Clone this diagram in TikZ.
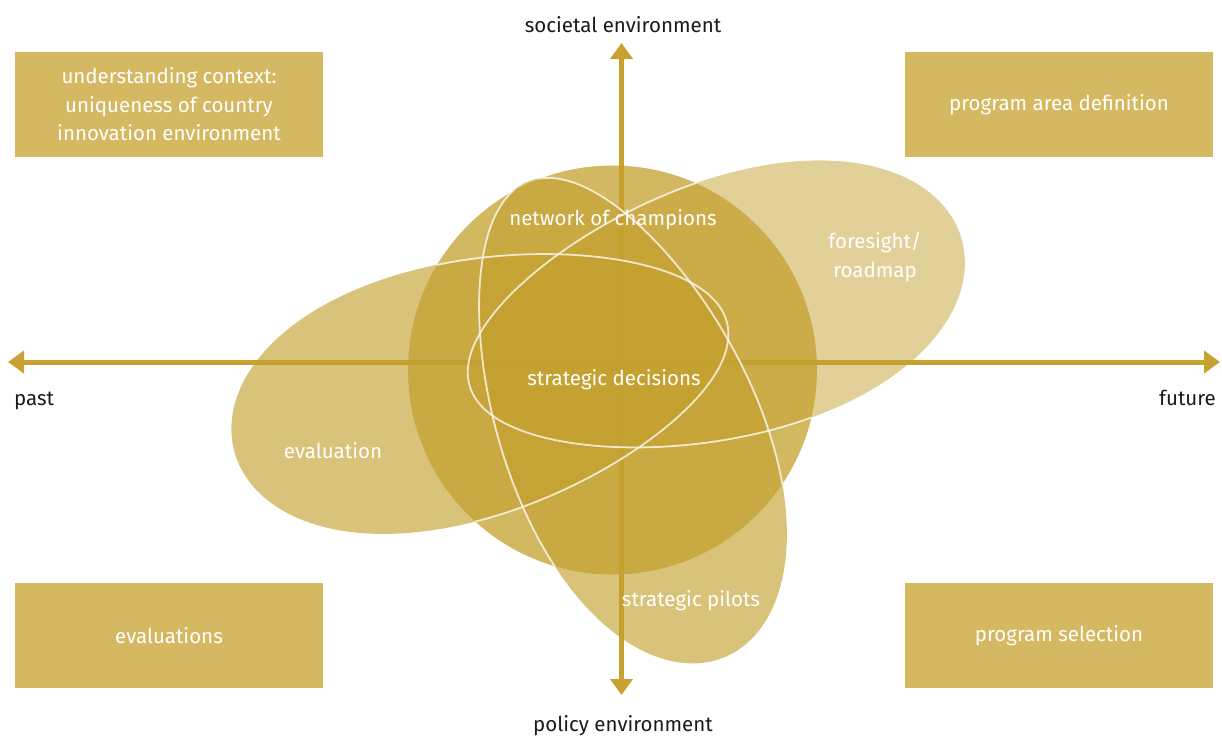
\documentclass[tikz,border=0pt]{standalone}
\usepackage{fontspec}
\setmainfont{Fira Sans}
\usetikzlibrary{arrows.meta}
\definecolor{gold}{RGB}{196,160,46}
\definecolor{boxgold}{RGB}{212,184,98}
\definecolor{axisgold}{RGB}{200,162,48}
\definecolor{axistext}{RGB}{26,26,26}

% egg shaped blob: #1 half length, #2 half width, #3 how much fatter one end is
\newcommand{\eggpath}[3]{plot[domain=0:357,samples=120,smooth cycle,variable=\t] ({#1*cos(\t)},{#2*sin(\t)*(1+#3*cos(\t))})}

\begin{document}
\begin{tikzpicture}[x=1pt,y=-1pt,
		box_style/.style={fill=boxgold,minimum width=308pt,minimum height=105pt,inner sep=0pt,text=white,align=center,font=\fontsize{20.5}{28.5}\selectfont},
		axis_style/.style={draw=axisgold,line width=5pt,{Triangle[length=16pt,width=22pt]}-{Triangle[length=16pt,width=22pt]}},
		axis_label/.style={text=axistext,inner sep=0pt,font=\fontsize{20.5}{24}\selectfont},
		blob_label/.style={text=white,inner sep=0pt,align=center,font=\fontsize{20.5}{29}\selectfont},
		blob_style/.style={fill=gold,fill opacity=0.64},
		outline_style/.style={draw=white,opacity=0.75,line width=1.8pt}]

		\useasboundingbox (0,0) rectangle (1222,737);

		% axes
		\coordinate (past_end) at (8,362);
		\coordinate (future_end) at (1220,362);
		\coordinate (societal_end) at (621.5,43);
		\coordinate (policy_end) at (621.5,695);
		\draw[axis_style] (past_end) -- (future_end);
		\draw[axis_style] (policy_end) -- (societal_end);

		\node[axis_label,anchor=base] (societal) at (623,32) {societal environment};
		\node[axis_label,anchor=base] (policy) at (623,731) {policy environment};
		\node[axis_label,anchor=base west] (past) at (14,405) {past};
		\node[axis_label,anchor=base east] (future) at (1216,405) {future};

		% corner boxes
		\node[box_style] (context) at (169,104.5) {understanding context:\\uniqueness of country\\innovation environment};
		\node[box_style] (definition) at (1059,104.5) {program area definition};
		\node[box_style] (evaluations) at (169,635.5) {evaluations};
		\node[box_style] (selection) at (1059,635.5) {program selection};

		% blobs
		\begin{scope}[shift={(480.5,386.5)},rotate=14.6]
			\fill[blob_style] \eggpath{254.6}{128}{-0.15};
		\end{scope}
		\begin{scope}[shift={(715.5,312)},rotate=16.8]
			\fill[blob_style,fill opacity=0.49] \eggpath{256.7}{128}{0.15};
		\end{scope}
		\begin{scope}[shift={(626,419.5)},rotate=-67.5]
			\fill[blob_style] \eggpath{257.3}{128}{0.12};
		\end{scope}
		\fill[gold,fill opacity=0.75] (612.5,370) circle (204.5pt);

		\begin{scope}
			\clip (612.5,370) circle (204.5pt);
			\begin{scope}[shift={(480.5,386.5)},rotate=14.6]
				\draw[outline_style] \eggpath{254.6}{128}{-0.15};
			\end{scope}
			\begin{scope}[shift={(715.5,312)},rotate=16.8]
				\draw[outline_style] \eggpath{256.7}{128}{0.15};
			\end{scope}
			\begin{scope}[shift={(626,419.5)},rotate=-67.5]
				\draw[outline_style] \eggpath{257.3}{128}{0.12};
			\end{scope}
		\end{scope}

		\node[blob_label] (champions) at (613,220) {network of champions};
		\node[blob_label] (decisions) at (614,380) {strategic decisions};
		\node[blob_label] (foresight) at (875,257) {foresight/\\roadmap};
		\node[blob_label] (evaluation) at (333,451) {evaluation};
		\node[blob_label] (pilots) at (691,601) {strategic pilots};

		\end{tikzpicture}
\end{document}
